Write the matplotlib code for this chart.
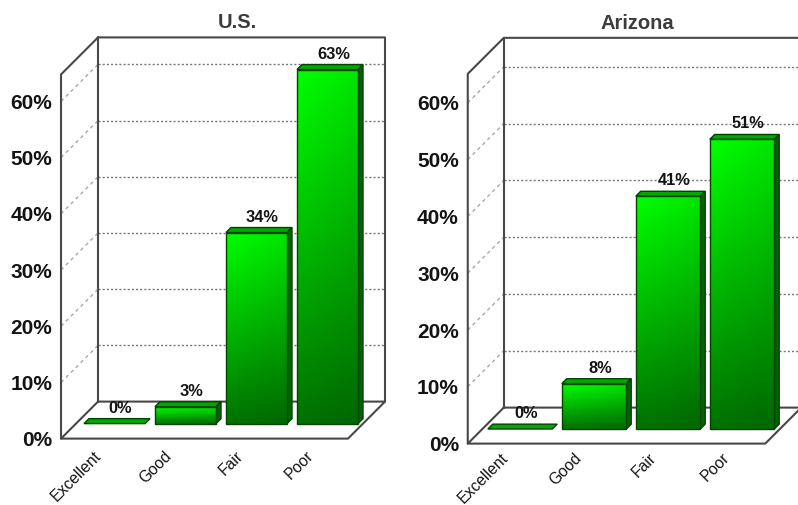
import numpy as np
import matplotlib
matplotlib.use("Agg")
import matplotlib.pyplot as plt
from matplotlib.patches import Polygon

plt.rcParams["font.family"] = ["Liberation Sans", "DejaVu Sans"]

categories = ["Excellent", "Good", "Fair", "Poor"]
us_values = [0, 3, 34, 63]
arizona_values = [0, 8, 41, 51]
percent_ticks = [0, 10, 20, 30, 40, 50, 60]

FIG_W, FIG_H = 798, 506
FRAME = "#484848"
BAR_EDGE = "#004400"
TEXT = "#141414"


def draw_panel(rect, title, values, x0, x_step, y0, y_step, depth_px,
               x_span, top_value, half_width, title_shift, label_offset):
    """Oblique 3-D column chart; x is category index, y is percent."""
    left, right = rect
    ax = fig.add_axes([left / FIG_W, 0, (right - left) / FIG_W, 1])
    ax.axis("off")

    dx = depth_px / x_step
    dy = depth_px / y_step
    xa, xb = x_span

    def wall(xs, ys, **kw):
        ax.plot(xs, ys, solid_capstyle="round", clip_on=False, **kw)

    # dotted gridlines on the side and back walls
    for v in percent_ticks[1:]:
        ax.plot([xa, xa + dx], [v, v + dy], color="#a8a8a8", lw=1.0,
                ls=(0, (2.5, 2.5)), zorder=1)
        ax.plot([xa + dx, xb + dx], [v + dy, v + dy], color="#777777", lw=1.0,
                ls=(0, (1.5, 1.5)), zorder=1)

    # box outline
    frame_kw = dict(color=FRAME, lw=1.5, zorder=2)
    wall([xa, xa, xa + dx, xb + dx, xb + dx], [0, top_value, top_value + dy,
                                                top_value + dy, dy], **frame_kw)
    wall([xa + dx, xa + dx], [dy, top_value + dy], **frame_kw)
    wall([xa + dx, xb + dx, xb, xa, xa + dx], [dy, dy, 0, 0, dy], **frame_kw)

    # columns standing part-way into the floor
    d_front, d_back = 0.405, 0.54
    for i, v in enumerate(values):
        centre = i + d_front * dx
        xl = centre - half_width
        xr = centre + half_width
        base = d_front * dy
        top = base + v
        sx, sy = (d_back - d_front) * dx, (d_back - d_front) * dy
        ax.add_patch(Polygon([(xl, top), (xr, top), (xr + sx, top + sy),
                              (xl + sx, top + sy)], closed=True,
                             facecolor="#00a800", edgecolor=BAR_EDGE, lw=1.0,
                             zorder=4))
        if v > 0:
            ax.add_patch(Polygon([(xr, base), (xr + sx, base + sy),
                                  (xr + sx, top + sy), (xr, top)], closed=True,
                                 facecolor="#006400", edgecolor=BAR_EDGE, lw=1.0,
                                 zorder=4))
            vert = np.linspace(1.0, 0.0, 64)[:, None]
            horiz = np.linspace(1.0, 0.9, 32)[None, :]
            green = (0.45 + 0.55 * vert) * horiz
            img = np.dstack([np.zeros_like(green), green, np.zeros_like(green)])
            im = ax.imshow(img, extent=(xl, xr, base, top), aspect="auto",
                           origin="upper", zorder=4, interpolation="bilinear")
            front = Polygon([(xl, base), (xr, base), (xr, top), (xl, top)],
                            closed=True, facecolor="none", edgecolor=BAR_EDGE,
                            lw=1.0, zorder=5)
            ax.add_patch(front)
            im.set_clip_path(front)
        ax.annotate(f"{v}%", (centre, top + sy), xytext=(6, 4),
                    textcoords="offset pixels", ha="center", va="bottom",
                    fontsize=11.8, fontweight="bold", color=TEXT, zorder=6)

    # percent axis on the front edge of the side wall
    for v in percent_ticks:
        ax.annotate(f"{v}%", (xa, v), xytext=(-9, -1), textcoords="offset pixels",
                    ha="right", va="center", fontsize=15, fontweight="bold",
                    color=TEXT, annotation_clip=False)

    # slanted category names under the floor
    for i, name in enumerate(categories):
        ax.annotate(name, (i, 0), xytext=label_offset, textcoords="offset pixels",
                    ha="right", va="center", rotation=45, rotation_mode="anchor",
                    fontsize=11.3, color=TEXT, annotation_clip=False)

    ax.set_xlim((left - x0) / x_step, (right - x0) / x_step)
    ax.set_ylim((y0 - FIG_H) / y_step, y0 / y_step)
    ax.annotate(title, ((xa + xb + dx) / 2, top_value + dy),
                xytext=(title_shift, 6), textcoords="offset pixels",
                ha="center", va="bottom", fontsize=14.5, fontweight="bold",
                color="#3c3c3c")


fig = plt.figure(figsize=(FIG_W / 100, FIG_H / 100), dpi=100, facecolor="white")

draw_panel((0, 400), "U.S.", us_values, x0=99.5, x_step=71, y0=439.6, y_step=5.62,
           depth_px=37, x_span=(-0.542, 3.5), top_value=64.8, half_width=0.43,
           title_shift=14, label_offset=(-1, -14))
draw_panel((400, 798), "Arizona", arizona_values, x0=505.5, x_step=74, y0=444.6,
           y_step=5.68, depth_px=36, x_span=(-0.51, 3.51), top_value=65.1,
           half_width=0.436, title_shift=3, label_offset=(0, -11))

fig.savefig("out.png", dpi=100)
